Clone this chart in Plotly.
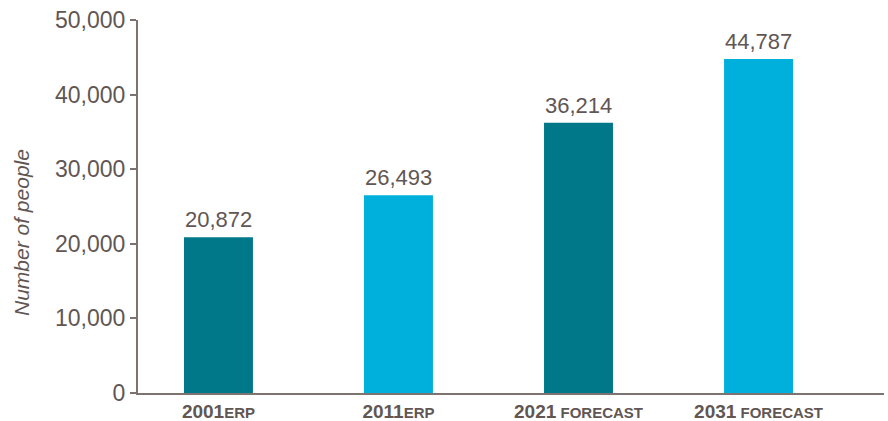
import plotly.graph_objects as go

years = ["2001", "2011", "2021", "2031"]
suffixes = ["ERP", "ERP", " FORECAST", " FORECAST"]
values = [20872, 26493, 36214, 44787]
colors = ["#00788a", "#00b0dc", "#00788a", "#00b0dc"]
tick_vals = [0, 10000, 20000, 30000, 40000, 50000]
y_title = "Number of people"

text_color = "#615653"
axis_color = "#7d7370"
FONT = "Liberation Sans, Arial, Helvetica, sans-serif"

tick_text = [f"<b>{y}<span style='font-size:15px'>{s}</span></b>" for y, s in zip(years, suffixes)]
xs = list(range(len(years)))

fig = go.Figure()
fig.add_trace(go.Bar(
    x=xs,
    y=values,
    marker=dict(color=colors, line=dict(width=0)),
    width=0.383,
    hoverinfo="skip",
))

for x, v in zip(xs, values):
    fig.add_annotation(
        x=x, y=v, xref="x", yref="y",
        text=f"{v:,}", showarrow=False,
        yanchor="bottom", xanchor="center", yshift=3,
        font=dict(size=22, color=text_color, family=FONT),
    )

fig.add_annotation(
    x=(22 - 138) / 746, y=(393 - 233) / 373, xref="paper", yref="paper",
    text=f"<i>{y_title}</i>", showarrow=False, textangle=-90,
    xanchor="center", yanchor="middle",
    font=dict(size=21, color=text_color, family=FONT),
)

fig.update_layout(
    width=888, height=421,
    margin=dict(l=138, r=4, t=20, b=28, autoexpand=False),
    plot_bgcolor="white", paper_bgcolor="white",
    showlegend=False,
    font=dict(family=FONT, color=text_color),
    xaxis=dict(
        range=[-0.447, 3.697],
        tickmode="array",
        tickvals=xs,
        ticktext=tick_text,
        tickfont=dict(size=19, color=text_color),
        showgrid=False, zeroline=False,
        showline=True, linecolor=axis_color, linewidth=2,
        ticks="", automargin=False,
    ),
    yaxis=dict(
        range=[0, 50000],
        tickvals=tick_vals,
        ticktext=[f"{v:,}" for v in tick_vals],
        tickfont=dict(size=23, color=text_color),
        showgrid=False, zeroline=False,
        showline=True, linecolor=axis_color, linewidth=2,
        ticks="outside", ticklen=6, tickcolor=axis_color, tickwidth=1.5,
        automargin=False,
    ),
)

fig.write_html("out.html")
